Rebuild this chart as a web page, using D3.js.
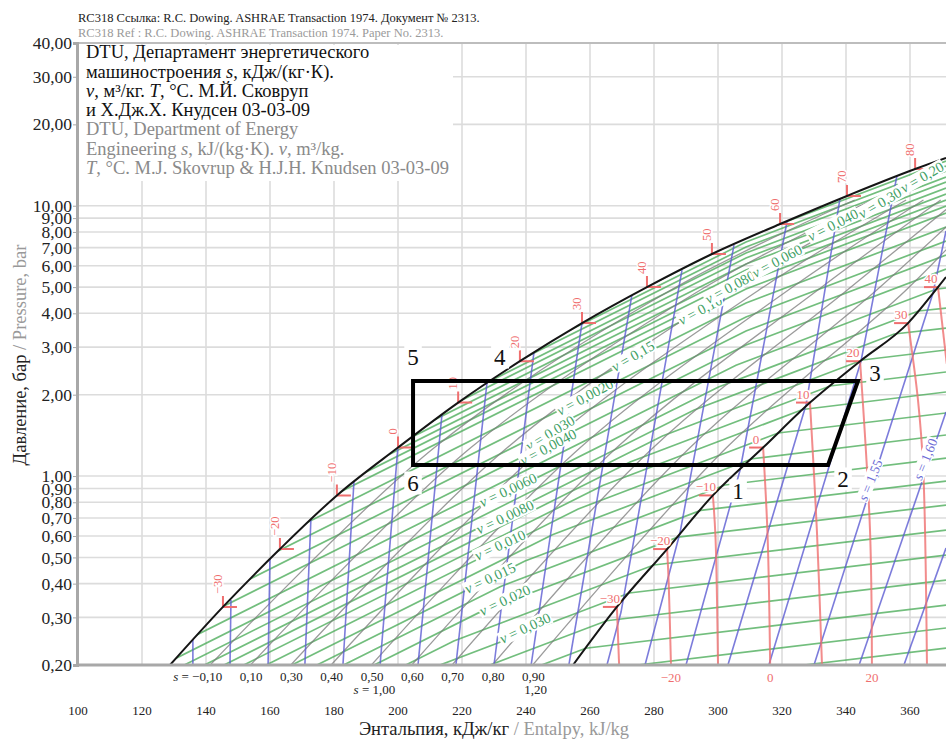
<!DOCTYPE html>
<html><head><meta charset="utf-8">
<script src="https://cdn.jsdelivr.net/npm/d3@7"></script>
<style>
body{margin:0;background:#fff;}
svg{display:block;font-family:"Liberation Serif","Times New Roman",serif;}
</style></head><body>
<svg id="c" width="946" height="741"></svg>
<script>
// ---------------- DATA (enthalpy h in kJ/kg, pressure P in bar) ----------------
const titleLines = ["RC318 Ссылка: R.C. Dowing. ASHRAE Transaction 1974. Документ № 2313.",
                    "RC318 Ref : R.C. Dowing. ASHRAE Transaction 1974. Paper No. 2313."];
const xTicks = [100,120,140,160,180,200,220,240,260,280,300,320,340,360];
const xGrid = [120,140,160,180,200,220,240,260,280,300,320,340,360,380];
const yTicks = [0.2,0.3,0.4,0.5,0.6,0.7,0.8,0.9,1,2,3,4,5,6,7,8,9,10,20,30,40];

const satLiquid = [[128.75,0.2],[145.3,0.328],[163.1,0.537],[180.9,0.848],[200.0,1.275],[218.8,1.87],
  [238.1,2.66],[257.5,3.68],[277.8,5.0],[298.1,6.63],[319.4,8.56],[340.3,10.87],[361.6,13.67],[371.25,15.02]];
const satVapor = [[254.7,0.2],[268.4,0.328],[284.1,0.537],[298.4,0.848],[314.1,1.275],[328.75,1.87],
  [344.4,2.66],[359.4,3.68],[368.75,5.0],[371.25,5.45]];

const isoLiquidT = [-30,-20,-10,0,10,20,30,40,50,60,70,80];
const isoLiquidH = [145.3,163.1,180.9,200.0,218.8,238.1,257.5,277.8,298.1,319.4,340.3,361.6];
const isoLiquidP = [0.328,0.537,0.848,1.275,1.87,2.66,3.68,5.0,6.63,8.56,10.87,13.67];

const isoVaporT = [-30,-20,-10,0,10,20,30,40];
const isoVaporPts = [
  [[268.4,0.328],[269.1,0.2]],
  [[284.1,0.537],[284.6,0.4],[285.3,0.2]],
  [[298.4,0.848],[299.2,0.6],[300.0,0.2]],
  [[314.1,1.275],[315.5,0.6],[316.3,0.2]],
  [[328.75,1.87],[330.9,0.631],[332.5,0.2]],
  [[344.4,2.66],[347.5,0.631],[348.1,0.2]],
  [[359.4,3.68],[362.5,1.91],[364.1,1.08],[365.3,0.2]],
  [[368.75,5.0],[371.5,2.6]]
];
const isoBottomLabelT = [-20,0,20];

const isentropes = [
  [[135.9,0.2495],[135.9,0.2]],
  [[147.8,0.3477],[147.5,0.2]],
  [[160.0,0.506],[159.4,0.2]],
  [[172.8,0.6996],[170.9,0.2]],
  [[186.25,0.9586],[182.8,0.2]],
  [[200.0,1.291],[194.4,0.2]],
  [[213.75,1.696],[206.25,0.2]],
  [[227.8,2.209],[218.1,0.2]],
  [[242.5,2.877],[230.0,0.2]],
  [[257.5,3.68],[241.6,0.2]],
  [[273.1,4.676],[253.4,0.2]],
  [[288.75,5.784],[269.7,0.314],[265.3,0.2]],
  [[305.0,7.156],[288.1,0.6155],[277.2,0.2]],
  [[321.6,8.782],[306.9,1.053],[290.0,0.2]],
  [[338.1,10.59],[327.5,1.832],[303.1,0.2]],
  [[355.9,12.88],[344.7,2.665],[315.9,0.2]],
  [[371.25,8.064],[367.2,4.756],[330.0,0.2]],
  [[371.25,1.726],[344.1,0.2]],
  [[371.25,0.5416],[358.1,0.2]]
];
const sLabelText = ["1,55","1,60"];
const sLabelH = [347.5,364.7];
const sLabelP = [0.9667,1.156];

const qualityLines = [
  [[141.3,0.2],[211.4,1.275],[285.3,4.879],[342.7,10.5]],
  [[153.9,0.2],[222.8,1.275],[294.5,4.879],[348.1,10.5]],
  [[166.5,0.2],[234.2,1.275],[303.7,4.879],[353.4,10.5]],
  [[179.1,0.2],[245.6,1.275],[312.8,4.879],[358.8,10.5]],
  [[191.7,0.2],[257.0,1.275],[322.0,4.879],[364.2,10.5]],
  [[204.3,0.2],[268.4,1.275],[331.2,4.879],[369.6,10.5]],
  [[216.9,0.2],[279.8,1.275],[340.4,4.879],[374.9,10.5]],
  [[229.5,0.2],[291.3,1.275],[349.6,4.879],[380.3,10.5]],
  [[242.1,0.2],[302.7,1.275],[358.8,4.879],[385.7,10.5]]
];
const qualityLabelRow1 = ["−0,10","0,10","0,30","0,40","0,50","0,60","0,70","0,80","0,90"];
const qualityLabelRow2 = ["","","","","1,00","","","","1,20"];

const isochores = [
  [[371.25,14.64],[308.75,7.662],[122.5,0.6050]],
  [[371.25,14.03],[308.75,7.342],[122.5,0.5799]],
  [[371.25,13.44],[308.75,7.036],[122.5,0.5556]],
  [[371.25,12.77],[308.75,6.687],[122.5,0.528]],
  [[371.25,12.24],[308.75,6.408],[122.5,0.5060]],
  [[371.25,11.63],[308.75,6.087],[122.5,0.4808]],
  [[371.25,11.05],[308.75,5.784],[122.5,0.4568]],
  [[371.25,10.50],[308.75,5.496],[122.5,0.434]],
  [[371.25,9.978],[308.75,5.222],[122.5,0.4123]],
  [[371.25,9.401],[308.75,4.919],[122.5,0.3886]],
  [[371.25,8.344],[308.75,4.367],[122.5,0.3449]],
  [[371.25,7.405],[308.75,3.876],[122.5,0.3061]],
  [[371.25,6.573],[308.75,3.44],[122.5,0.2717]],
  [[371.25,5.834],[308.75,3.053],[122.5,0.2411]],
  [[371.25,4.962],[368.13,4.911],[305.63,2.571],[122.5,0.2119]],
  [[371.25,4.184],[362.66,4.079],[300.16,2.135],[122.5,0.1896]],
  [[371.25,3.529],[355.06,3.353],[292.56,1.755],[122.5,0.1728]],
  [[371.25,2.927],[345.13,2.687],[282.63,1.406],[122.5,0.1586]],
  [[371.25,2.427],[335.03,2.154],[272.53,1.127],[122.5,0.1459]],
  [[371.25,2.046],[326.47,1.763],[263.97,0.9225],[122.5,0.1341]],
  [[371.25,1.711],[318.81,1.443],[256.31,0.7551],[122.5,0.1219]],
  [[371.25,1.419],[310.75,1.159],[248.25,0.6066],[122.5,0.1093]],
  [[371.25,1.166],[302.19,0.9265],[239.69,0.485],[122.5,0.0982]],
  [[371.25,0.9586],[294.59,0.7461],[232.09,0.3906],[122.5,0.0877]],
  [[371.25,0.7812],[287.47,0.5943],[224.97,0.3111],[122.5,0.077]],
  [[371.25,0.6314],[279.94,0.4687],[217.44,0.2453],[122.5,0.0673]],
  [[371.25,0.5103],[272.28,0.3693],[209.78,0.1932]],
  [[371.25,0.4124],[265.19,0.2916],[202.69,0.1527]],
  [[371.25,0.3333],[258.66,0.2307],[196.16,0.1207]],
  [[371.25,0.2741],[274.9,0.2]],
  [[371.25,0.2311],[326.9,0.2]]
];
const vLabelText = ["0,0020","0,030","0,0040","0,0060","0,0080","0,010","0,015","0,020","0,030",
                    "0,15","0,10","0,080","0,060","0,040","0,30","0,20"];
const vLabelH = [258.4,247.5,246.9,234.4,233.4,231.9,228.75,233.4,239.7,273.4,294.4,303.75,318.4,335.9,350.6,363.75];
const vLabelP = [1.961,1.443,1.28,0.888,0.7056,0.5556,0.4195,0.3477,0.274,2.78,4.114,5.005,6.245,8.49,10.24,12.77];

const cycleNames = ["1","2","3","4","5","6"];
const cycleH = [304.1,334.4,343.75,228.7,204.7,204.7];
const cycleP = [1.099,1.099,2.247,2.247,2.247,1.099];

const legendRu = [
  [["DTU, Департамент энергетического"]],
  [["машиностроения "],["s",1],[", кДж/(кг·К)."]],
  [["v",1],[", м³/кг. "],["T",1],[", °С. М.Й. Сковруп"]],
  [["и Х.Дж.Х. Кнудсен 03-03-09"]]
];
const legendEn = [
  [["DTU, Department of Energy"]],
  [["Engineering "],["s",1],[", kJ/(kg·K). "],["v",1],[", m³/kg."]],
  [["T",1],[", °C. M.J. Skovrup & H.J.H. Knudsen 03-03-09"]]
];

// ---------------- STYLE ----------------
const C = {grid:"#dcdcdc", green:"#4fae5c", greenText:"#3f9f66", blue:"#5b5bd2", blueText:"#6d6dd6",
           red:"#ef6f6f", gray:"#7a7a7a", black:"#151515", axis:"#a8a8a8"};
const vLabelAngle = [-28,-31,-28,-25,-25,-25,-25,-25,-25,-30,-28,-28,-28,-27,-30,-30];
const cycleOffset = [[7,26],[15,14],[17,-8],[10,-24],[0,-24],[0,18]];

// ---------------- CHART ----------------
const svg = d3.select("#c");
const x = d3.scaleLinear().domain([100,380]).range([78,974]);
const y = d3.scaleLog().domain([0.2,40]).range([665,43]);
const line = d3.line().x(d=>x(d[0])).y(d=>y(d[1]));
const lineMono = d3.line().x(d=>x(d[0])).y(d=>y(d[1])).curve(d3.curveMonotoneX);
const lineSmooth = d3.line().x(d=>x(d[0])).y(d=>y(d[1])).curve(d3.curveCatmullRom.alpha(0.5));

svg.append("rect").attr("width",946).attr("height",741).attr("fill","#fff");
const defs = svg.append("defs");
defs.append("clipPath").attr("id","plotclip").append("rect")
  .attr("x",78).attr("y",43).attr("width",868).attr("height",622);
const liqFirst = satLiquid[0], liqLast = satLiquid[satLiquid.length-1];
defs.append("clipPath").attr("id","liqclip").append("path")
  .attr("d", lineMono(satLiquid) + `L1000,${y(liqLast[1])}L1000,700L${x(liqFirst[0])},700Z`);

// grid
const grid = svg.append("g").attr("clip-path","url(#plotclip)");
grid.selectAll("line.v").data(xGrid).join("line")
  .attr("x1",d=>x(d)).attr("x2",d=>x(d)).attr("y1",43).attr("y2",665)
  .attr("stroke",C.grid).attr("stroke-width",1.6);
grid.selectAll("line.h").data(yTicks).join("line")
  .attr("x1",78).attr("x2",946).attr("y1",d=>y(d)).attr("y2",d=>y(d))
  .attr("stroke",C.grid).attr("stroke-width",1.6);

const plot = svg.append("g").attr("clip-path","url(#plotclip)");
const inner = plot.append("g").attr("clip-path","url(#liqclip)");

// isochores (green)
inner.append("g").selectAll("path").data(isochores).join("path")
  .attr("d", line).attr("fill","none").attr("stroke",C.green).attr("stroke-width",1.7).attr("opacity",0.8);
// quality lines (gray)
inner.append("g").selectAll("path").data(qualityLines).join("path")
  .attr("d", lineSmooth).attr("fill","none").attr("stroke",C.gray).attr("stroke-width",1.3).attr("opacity",0.75);
// isentropes (blue)
inner.append("g").selectAll("path").data(isentropes).join("path")
  .attr("d", line).attr("fill","none").attr("stroke",C.blue).attr("stroke-width",1.6).attr("opacity",0.8);

// isotherms in vapour region
const iso = plot.append("g");
iso.selectAll("path.vi").data(isoVaporPts).join("path")
  .attr("d", lineSmooth).attr("fill","none").attr("stroke",C.red).attr("stroke-width",2).attr("opacity",0.8);
isoVaporPts.forEach((pts,i)=>{
  const px=x(pts[0][0]), py=y(pts[0][1]);
  iso.append("path").attr("d",`M${px-14},${py}L${px},${py}`).attr("stroke",C.red).attr("stroke-width",2).attr("fill","none");
});
// liquid markers
isoLiquidT.forEach((t,i)=>{
  const px=x(isoLiquidH[i]), py=y(isoLiquidP[i]);
  iso.append("path").attr("d",`M${px},${py-11}L${px},${py}L${px+14},${py}`)
    .attr("stroke",C.red).attr("stroke-width",2).attr("fill","none");
});

// saturation lines
plot.append("path").attr("d",lineMono(satLiquid)).attr("fill","none").attr("stroke",C.black).attr("stroke-width",2);
plot.append("path").attr("d",lineMono(satVapor)).attr("fill","none").attr("stroke",C.black).attr("stroke-width",2);

// helper for labels with white box
function boxLabel(g, px, py, angle, parts, size, color, pad){
  const gg = g.append("g").attr("transform",`translate(${px},${py}) rotate(${angle})`);
  const r = gg.append("rect").attr("fill","#fff");
  const t = gg.append("text").attr("text-anchor","middle").attr("dominant-baseline","central")
    .style("font-size",size+"px").attr("fill",color);
  parts.forEach(p=>t.append("tspan").text(p[0]).style("font-style",p[1]?"italic":null));
  const bb = t.node().getBBox();
  r.attr("x",bb.x-pad).attr("y",bb.y+1).attr("width",bb.width+2*pad).attr("height",bb.height-2);
  return gg;
}
const fmtT = t => t<0 ? "−"+Math.abs(t) : String(t);

const labels = plot.append("g");
vLabelText.forEach((s,i)=>{
  boxLabel(labels, x(vLabelH[i]), y(vLabelP[i]), vLabelAngle[i], [["v",1],[" = "+s]], 14.5, C.greenText, 1);
});
sLabelText.forEach((s,i)=>{
  boxLabel(labels, x(sLabelH[i]), y(sLabelP[i]), -68, [["s",1],[" = "+s]], 13.5, C.blueText, 1);
});
// isotherm labels
isoLiquidT.forEach((t,i)=>{
  const px=x(isoLiquidH[i]), py=y(isoLiquidP[i]);
  labels.append("text").attr("transform",`translate(${px-1},${py-13}) rotate(-90)`)
    .attr("text-anchor","start").style("font-size","12.5px").attr("fill",C.red)
    .attr("stroke","#fff").attr("stroke-width",3).attr("paint-order","stroke").text(fmtT(t));
});
isoVaporT.forEach((t,i)=>{
  const px=x(isoVaporPts[i][0][0]), py=y(isoVaporPts[i][0][1]);
  labels.append("text").attr("x",px-7).attr("y",py-4).attr("text-anchor","middle")
    .style("font-size","13px").attr("fill",C.red)
    .attr("stroke","#fff").attr("stroke-width",3).attr("paint-order","stroke").text(fmtT(t));
});

// cycle
const cyc = cycleH.map((h,i)=>[h,cycleP[i]]);
svg.append("path").attr("d", line(cyc)+"Z").attr("fill","none").attr("stroke","#000")
  .attr("stroke-width",4).attr("stroke-linejoin","miter");
cycleNames.forEach((n,i)=>{
  const px=x(cycleH[i])+cycleOffset[i][0], py=y(cycleP[i])+cycleOffset[i][1];
  boxLabel(svg, px, py, 0, [[n]], 23, "#111", 3);
});

// bottom labels (quality / isotherms)
const bot = svg.append("g");
qualityLines.forEach((q,i)=>{
  const bx = x(q[0][0]);
  const t = bot.append("text").attr("x",bx+12).attr("y",681).attr("text-anchor","end")
    .style("font-size","13px").attr("fill","#222");
  if(i===0){ t.append("tspan").text("s").style("font-style","italic"); t.append("tspan").text(" = "); }
  t.append("tspan").text(qualityLabelRow1[i]);
  if(qualityLabelRow2[i]){
    const t2 = bot.append("text").attr("x",bx+3).attr("y",694).attr("text-anchor","middle")
      .style("font-size","13px").attr("fill","#222");
    if(i===4){ t2.append("tspan").text("s").style("font-style","italic"); t2.append("tspan").text(" = "); }
    t2.append("tspan").text(qualityLabelRow2[i]);
  }
});
isoBottomLabelT.forEach(t=>{
  const pts = isoVaporPts[isoVaporT.indexOf(t)];
  const last = pts[pts.length-1];
  bot.append("text").attr("x",x(last[0])).attr("y",682).attr("text-anchor","middle")
    .style("font-size","13px").attr("fill",C.red).text(fmtT(t));
});

// legend box
svg.append("rect").attr("x",79).attr("y",45).attr("width",374).attr("height",136).attr("fill","#fff");
const leg = svg.append("g").style("font-size","18.5px");
const legBase = [58,77.5,97,115.5,135,154.5,174];
legendRu.concat(legendEn).forEach((parts,i)=>{
  const t = leg.append("text").attr("x",86).attr("y",legBase[i]).attr("fill", i<4 ? "#111" : "#8a8a8a");
  parts.forEach(p=>t.append("tspan").text(p[0]).style("font-style",p[1]?"italic":null));
});

// axes
svg.append("line").attr("x1",77).attr("x2",946).attr("y1",43).attr("y2",43).attr("stroke","#bdbdbd").attr("stroke-width",2);
const ya = d3.axisLeft(y).tickValues(yTicks).tickFormat(d=>d.toFixed(2).replace(".",",")).tickSize(4).tickPadding(1);
const yg = svg.append("g").attr("transform","translate(77,0)").call(ya);
yg.attr("font-family",null).attr("font-size",null);
yg.select(".domain").attr("stroke",C.axis).attr("stroke-width",3);
yg.selectAll(".tick line").attr("stroke",C.axis);
yg.selectAll(".tick text").style("font-size","17.5px").attr("fill","#222");
svg.append("line").attr("x1",76).attr("x2",946).attr("y1",665).attr("y2",665).attr("stroke",C.axis).attr("stroke-width",3);
svg.append("g").selectAll("text").data(xTicks).join("text")
  .attr("x",d=>x(d)).attr("y",715).attr("text-anchor","middle").style("font-size","13px").attr("fill","#222").text(d=>d);

// axis titles
const xt = svg.append("text").attr("x",494).attr("y",735).attr("text-anchor","middle").style("font-size","18.5px");
xt.append("tspan").text("Энтальпия, кДж/кг").attr("fill","#222");
xt.append("tspan").text(" / Entalpy, kJ/kg").attr("fill","#999");
const yt = svg.append("text").attr("transform","translate(26,355) rotate(-90)").attr("text-anchor","middle").style("font-size","18.5px");
yt.append("tspan").text("Давление, бар").attr("fill","#222");
yt.append("tspan").text(" / Pressure, bar").attr("fill","#999");

// title
svg.append("text").attr("x",78).attr("y",22).style("font-size","12.5px").attr("fill","#222").text(titleLines[0]);
svg.append("text").attr("x",78).attr("y",37).style("font-size","12.5px").attr("fill","#9a9a9a").text(titleLines[1]);
</script></body></html>
